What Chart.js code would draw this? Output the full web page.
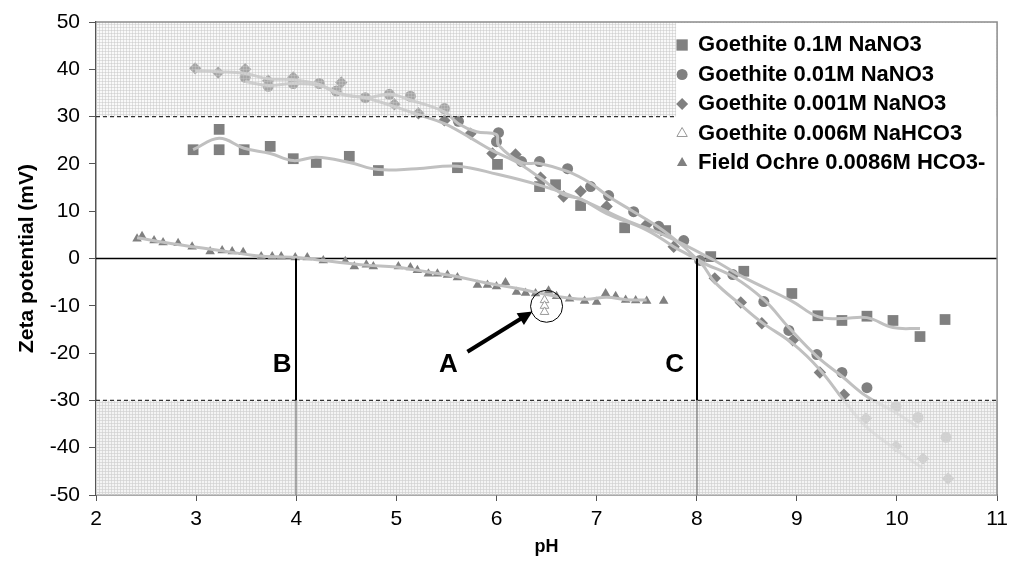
<!DOCTYPE html>
<html>
<head>
<meta charset="utf-8">
<script src="https://cdn.jsdelivr.net/npm/chart.js@4/dist/chart.umd.min.js"></script>
<style>
  html, body { margin: 0; padding: 0; background: #fff; }
</style>
</head>
<body>
<canvas id="chart" width="1014" height="572"></canvas>
<script>
// 刻度
const xTicks = [2, 3, 4, 5, 6, 7, 8, 9, 10, 11]
const yTicks = [-50, -40, -30, -20, -10, 0, 10, 20, 30, 40, 50]

// Goethite 0.1M NaNO3 (方塊)
const s1pH = [2.97, 3.23, 3.23, 3.48, 3.74, 3.97, 4.20, 4.53, 4.82, 5.61, 6.01, 6.43, 6.59, 6.84, 7.28, 7.69, 8.14, 8.47, 8.95, 9.21, 9.45, 9.70, 9.96, 10.23, 10.48]
const s1Zeta = [23.0, 27.3, 23.0, 23.0, 23.7, 21.1, 20.3, 21.6, 18.6, 19.2, 19.9, 15.2, 15.6, 11.2, 6.5, 5.9, 0.4, -2.7, -7.4, -12.1, -13.1, -12.2, -13.1, -16.5, -12.9]

// Goethite 0.01M NaNO3 (圓點)
const s2pH = [3.49, 3.72, 3.97, 4.23, 4.40, 4.69, 4.93, 5.14, 5.48, 5.62, 6.00, 6.02, 6.25, 6.43, 6.71, 6.94, 7.12, 7.37, 7.62, 7.87, 8.03, 8.36, 8.67, 8.92, 9.20, 9.45, 9.70, 9.99, 10.21, 10.49]
const s2Zeta = [38.3, 36.4, 37.0, 37.0, 35.4, 34.0, 34.7, 34.3, 31.7, 29.0, 24.7, 26.6, 20.5, 20.5, 19.0, 15.2, 13.3, 9.9, 6.8, 3.8, -0.4, -3.4, -9.1, -15.2, -20.3, -24.1, -27.3, -31.3, -33.6, -37.8]

// Goethite 0.001M NaNO3 (菱形)
const s3pH = [2.99, 3.22, 3.49, 3.72, 3.97, 4.45, 4.98, 5.22, 5.48, 5.74, 5.96, 6.19, 6.44, 6.67, 6.84, 7.10, 7.50, 7.77, 8.18, 8.44, 8.65, 8.96, 9.23, 9.47, 9.69, 9.99, 10.26, 10.51]
const s3Zeta = [40.2, 39.3, 40.0, 37.6, 38.3, 37.2, 32.6, 30.7, 29.2, 26.4, 22.2, 22.0, 17.1, 13.1, 14.2, 11.0, 7.2, 2.5, -4.2, -9.3, -13.7, -17.3, -24.1, -28.8, -33.8, -39.7, -42.3, -46.5]

// Goethite 0.006M NaHCO3 (空心三角)
const s4pH = [6.48, 6.48, 6.48]
const s4Zeta = [-8.8, -10.0, -11.3]

// Field Ochre 0.0086M HCO3- (實心三角)
const s5pH = [2.41, 2.46, 2.58, 2.67, 2.82, 2.96, 3.14, 3.26, 3.36, 3.47, 3.65, 3.76, 3.85, 3.99, 4.11, 4.27, 4.49, 4.58, 4.70, 4.77, 5.02, 5.14, 5.21, 5.32, 5.41, 5.51, 5.61, 5.81, 5.91, 6.00, 6.09, 6.20, 6.29, 6.39, 6.52, 6.60, 6.73, 6.88, 7.00, 7.09, 7.19, 7.29, 7.39, 7.50, 7.67]
const s5Zeta = [4.2, 4.7, 3.8, 3.4, 3.2, 2.5, 1.5, 1.7, 1.5, 1.3, 0.4, 0.4, 0.4, 0.2, 0.2, -0.4, -0.6, -1.7, -1.3, -1.7, -1.7, -1.9, -2.5, -3.2, -3.2, -3.5, -4.0, -5.6, -5.6, -5.9, -5.1, -7.1, -7.3, -7.4, -6.8, -8.0, -8.5, -9.0, -9.2, -7.4, -8.0, -8.8, -8.9, -9.0, -9.0]

// 趨勢線
const t1pH = [2.97, 3.23, 3.48, 3.74, 3.97, 4.20, 4.53, 4.82, 5.20, 5.61, 6.01, 6.43, 6.84, 7.28, 7.69, 8.14, 8.47, 8.95, 9.21, 9.45, 9.70, 9.96, 10.23]
const t1Zeta = [23.0, 25.4, 23.3, 22.2, 20.7, 21.4, 20.3, 18.8, 19.0, 19.5, 17.8, 15.5, 12.5, 8.2, 4.8, 0.0, -4.0, -9.0, -12.3, -12.7, -12.5, -14.6, -14.8]
const t2pH = [3.49, 3.72, 3.97, 4.23, 4.40, 4.69, 4.93, 5.14, 5.48, 5.62, 5.80, 6.00, 6.02, 6.25, 6.43, 6.71, 6.94, 7.12, 7.37, 7.62, 7.87, 8.03, 8.36, 8.67, 8.92, 9.20, 9.45, 9.70, 9.99, 10.21]
const t2Zeta = [37.4, 36.6, 37.0, 36.6, 35.1, 34.0, 34.7, 33.5, 31.0, 28.5, 26.8, 26.2, 24.0, 20.3, 20.1, 18.4, 15.9, 13.1, 9.9, 6.6, 2.5, -0.5, -3.8, -8.7, -14.6, -20.7, -24.9, -29.2, -32.6, -35.7]
const t3pH = [2.99, 3.22, 3.49, 3.72, 3.97, 4.23, 4.45, 4.69, 4.98, 5.22, 5.48, 5.74, 5.96, 6.19, 6.44, 6.67, 6.84, 7.10, 7.50, 7.77, 8.04, 8.18, 8.44, 8.65, 8.96, 9.23, 9.47, 9.69, 9.99, 10.26]
const t3Zeta = [39.7, 39.5, 39.1, 38.0, 37.8, 36.8, 34.7, 34.0, 32.1, 30.4, 28.5, 25.5, 22.8, 20.5, 17.0, 13.5, 12.6, 9.5, 6.0, 2.5, -1.0, -5.0, -9.8, -13.5, -18.0, -23.5, -30.0, -35.5, -40.4, -44.4]
const t5pH = [2.41, 2.80, 3.30, 3.60, 4.00, 4.30, 4.70, 5.00, 5.30, 5.60, 5.90, 6.20, 6.50, 6.70, 6.90, 7.10, 7.30, 7.50]
const t5Zeta = [4.4, 3.0, 1.5, 0.6, 0.2, -0.5, -1.4, -1.8, -2.8, -3.8, -5.2, -6.3, -7.6, -8.3, -8.6, -8.2, -8.7, -8.8]

// 註記位置 (資料座標)
const labelsABC = [
  { text: "B", pH: 3.86, zeta: -22.4 },
  { text: "A", pH: 5.52, zeta: -22.4 },
  { text: "C", pH: 7.78, zeta: -22.4 },
]
const markLinesPH = [4, 8]
const arrowFrom = { pH: 5.71, zeta: -19.7 }
const arrowTo = { pH: 6.36, zeta: -11.2 }
const ringAt = { pH: 6.5, zeta: -10.1 }

const markerGray = "#808080"
const trendGray = "#c0c0c0"
const fontFamily = "'Liberation Sans', Arial, sans-serif"

const toXY = (xs, ys) => xs.map((x, i) => ({ x, y: ys[i] }))

// 趨勢線
function trend(xs, ys) {
  return {
    data: toXY(xs, ys),
    showLine: true,
    borderColor: trendGray,
    borderWidth: 3,
    pointRadius: 0,
    tension: 0.4,
    fill: false,
    order: 0,
  }
}

// 資料點
function marker(label, xs, ys, style, radius, fill, border) {
  return {
    label,
    data: toXY(xs, ys),
    showLine: false,
    pointStyle: style,
    pointRadius: radius,
    pointHoverRadius: radius,
    backgroundColor: fill,
    borderColor: border || fill,
    borderWidth: border ? 1 : 0,
    order: 1,
  }
}

const markerSets = [
  marker("Goethite 0.1M NaNO3", s1pH, s1Zeta, "rect", 7.6, markerGray),
  marker("Goethite 0.01M NaNO3", s2pH, s2Zeta, "circle", 5.5, markerGray),
  marker("Goethite 0.001M NaNO3", s3pH, s3Zeta, "rectRot", 6.2, markerGray),
  marker("Goethite 0.006M NaHCO3", s4pH, s4Zeta, "triangle", 5, "#ffffff", "#9a9a9a"),
  marker("Field Ochre 0.0086M HCO3-", s5pH, s5Zeta, "triangle", 5.5, markerGray),
]

// 小格紋圖樣
function gridPattern(ctx, base, line) {
  const c = document.createElement("canvas")
  c.width = 3
  c.height = 3
  const g = c.getContext("2d")
  g.fillStyle = base
  g.fillRect(0, 0, 3, 3)
  g.fillStyle = line
  g.fillRect(0, 0, 3, 1)
  g.fillRect(0, 0, 1, 3)
  return ctx.createPattern(c, "repeat")
}

// 自繪圖例標記
function drawMarker(ctx, style, x, y, r, fill, stroke) {
  ctx.save()
  ctx.fillStyle = fill
  ctx.strokeStyle = stroke || fill
  ctx.lineWidth = 1
  ctx.beginPath()
  if (style === "rect") {
    const s = r * Math.SQRT1_2
    ctx.rect(x - s, y - s, 2 * s, 2 * s)
  } else if (style === "circle") {
    ctx.arc(x, y, r, 0, Math.PI * 2)
  } else if (style === "rectRot") {
    ctx.moveTo(x - r, y)
    ctx.lineTo(x, y - r)
    ctx.lineTo(x + r, y)
    ctx.lineTo(x, y + r)
    ctx.closePath()
  } else {
    for (let k = 0; k < 3; k++) {
      const a = k * (2 * Math.PI / 3)
      const px = x + Math.sin(a) * r
      const py = y - Math.cos(a) * r
      k === 0 ? ctx.moveTo(px, py) : ctx.lineTo(px, py)
    }
    ctx.closePath()
  }
  ctx.fill()
  if (stroke) ctx.stroke()
  ctx.restore()
}

const overlay = {
  id: "overlay",
  beforeDatasetsDraw(chart) {
    const { ctx, chartArea: a, scales: { y } } = chart
    ctx.save()
    // 零線
    ctx.strokeStyle = "#000"
    ctx.lineWidth = 1.5
    ctx.beginPath()
    ctx.moveTo(a.left, y.getPixelForValue(0))
    ctx.lineTo(a.right, y.getPixelForValue(0))
    ctx.stroke()
    ctx.restore()
  },
  afterDatasetsDraw(chart) {
    const { ctx, chartArea: a, scales: { x, y } } = chart
    const y30 = y.getPixelForValue(30)
    const yn30 = y.getPixelForValue(-30)
    const y0 = y.getPixelForValue(0)
    ctx.save()

    // 上下陰影區
    ctx.fillStyle = gridPattern(ctx, "rgba(238,238,238,0.35)", "rgba(195,195,195,0.45)")
    ctx.fillRect(a.left, a.top, a.right - a.left, y30 - a.top)
    ctx.fillStyle = gridPattern(ctx, "rgba(240,240,240,0.72)", "rgba(210,210,210,0.7)")
    ctx.fillRect(a.left, yn30, a.right - a.left, a.bottom - yn30)

    // 虛線 ±30
    ctx.strokeStyle = "#333"
    ctx.lineWidth = 1.2
    ctx.setLineDash([4, 3])
    ctx.beginPath()
    ctx.moveTo(a.left, y30)
    ctx.lineTo(a.right, y30)
    ctx.moveTo(a.left, yn30)
    ctx.lineTo(a.right, yn30)
    ctx.stroke()
    ctx.setLineDash([])

    // pH 4 與 pH 8 垂直線
    markLinesPH.forEach((p) => {
      const px = Math.round(x.getPixelForValue(p))
      ctx.strokeStyle = "#000"
      ctx.lineWidth = 2
      ctx.beginPath()
      ctx.moveTo(px, y0)
      ctx.lineTo(px, yn30)
      ctx.stroke()
      ctx.strokeStyle = "#777"
      ctx.lineWidth = 1.2
      ctx.beginPath()
      ctx.moveTo(px, yn30)
      ctx.lineTo(px, a.bottom)
      ctx.stroke()
    })

    // 外框 (上、右)
    ctx.strokeStyle = "#8c8c8c"
    ctx.lineWidth = 1.5
    ctx.beginPath()
    ctx.moveTo(a.left, a.top)
    ctx.lineTo(a.right, a.top)
    ctx.lineTo(a.right, a.bottom)
    ctx.stroke()

    // A B C 文字
    ctx.fillStyle = "#000"
    ctx.font = "bold 26px " + fontFamily
    ctx.textAlign = "center"
    ctx.textBaseline = "middle"
    labelsABC.forEach((l) => {
      ctx.fillText(l.text, x.getPixelForValue(l.pH), y.getPixelForValue(l.zeta))
    })

    // 箭頭
    const ax0 = x.getPixelForValue(arrowFrom.pH), ay0 = y.getPixelForValue(arrowFrom.zeta)
    const ax1 = x.getPixelForValue(arrowTo.pH), ay1 = y.getPixelForValue(arrowTo.zeta)
    const ang = Math.atan2(ay1 - ay0, ax1 - ax0)
    ctx.strokeStyle = "#000"
    ctx.lineWidth = 4
    ctx.beginPath()
    ctx.moveTo(ax0, ay0)
    ctx.lineTo(ax1 - Math.cos(ang) * 10, ay1 - Math.sin(ang) * 10)
    ctx.stroke()
    ctx.beginPath()
    ctx.moveTo(ax1, ay1)
    ctx.lineTo(ax1 - Math.cos(ang - 0.45) * 16, ay1 - Math.sin(ang - 0.45) * 16)
    ctx.lineTo(ax1 - Math.cos(ang + 0.45) * 16, ay1 - Math.sin(ang + 0.45) * 16)
    ctx.closePath()
    ctx.fill()

    // 圓圈
    ctx.lineWidth = 1
    ctx.beginPath()
    ctx.arc(x.getPixelForValue(ringAt.pH), y.getPixelForValue(ringAt.zeta), 16, 0, Math.PI * 2)
    ctx.stroke()

    // 圖例
    const lx = a.right - 315
    ctx.fillStyle = "#fff"
    ctx.fillRect(lx - 6, a.top + 1, a.right - lx + 5, 175)
    ctx.font = "bold 22px " + fontFamily
    ctx.textAlign = "left"
    ctx.textBaseline = "middle"
    markerSets.forEach((ds, i) => {
      const ly = a.top + 23 + i * 29.5
      const r = ds.pointStyle === "rect" ? 8 : ds.pointStyle === "circle" ? 5.5 : 6
      drawMarker(ctx, ds.pointStyle, lx, ly, r, ds.backgroundColor, ds.borderWidth ? ds.borderColor : null)
      ctx.fillStyle = "#000"
      ctx.fillText(ds.label, lx + 16, ly)
    })
    ctx.restore()
  },
}

new Chart(document.getElementById("chart"), {
  type: "scatter",
  data: {
    datasets: [
      trend(t1pH, t1Zeta),
      trend(t2pH, t2Zeta),
      trend(t3pH, t3Zeta),
      trend(t5pH, t5Zeta),
      ...markerSets,
    ],
  },
  options: {
    responsive: false,
    animation: false,
    events: [],
    layout: { padding: { left: 0, right: 11, top: 22, bottom: 0 } },
    plugins: {
      legend: { display: false },
      tooltip: { enabled: false },
    },
    scales: {
      x: {
        type: "linear",
        min: xTicks[0],
        max: xTicks[xTicks.length - 1],
        afterBuildTicks: (s) => { s.ticks = xTicks.map((v) => ({ value: v })) },
        afterFit: (s) => { s.height = 77 },
        ticks: { color: "#000", font: { size: 21, family: fontFamily }, padding: 6 },
        grid: { drawOnChartArea: false, color: "#555", tickLength: 6 },
        border: { color: "#555", width: 1.5 },
        title: {
          display: true,
          text: "pH",
          color: "#000",
          font: { size: 18, weight: "bold", family: fontFamily },
          padding: { top: 0, bottom: 14 },
        },
      },
      y: {
        type: "linear",
        min: yTicks[0],
        max: yTicks[yTicks.length - 1],
        afterBuildTicks: (s) => { s.ticks = yTicks.map((v) => ({ value: v })) },
        afterFit: (s) => { s.width = 96 },
        ticks: { color: "#000", font: { size: 21, family: fontFamily }, padding: 9 },
        grid: { drawOnChartArea: false, color: "#555", tickLength: 7 },
        border: { color: "#555", width: 1.5 },
        title: {
          display: true,
          text: "Zeta potential (mV)",
          color: "#000",
          font: { size: 21, weight: "bold", family: fontFamily },
          padding: { top: 15, bottom: 0 },
        },
      },
    },
  },
  plugins: [overlay],
})
</script>
</body>
</html>
